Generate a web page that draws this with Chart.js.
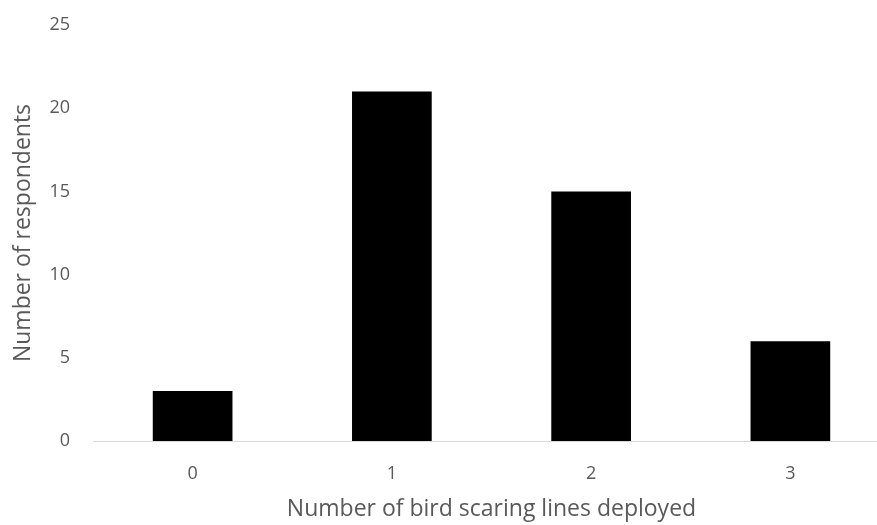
<!DOCTYPE html>
<html>
<head>
<meta charset="utf-8">
<script src="https://cdn.jsdelivr.net/npm/chart.js@4/dist/chart.umd.min.js"></script>
<style>
  html, body { margin: 0; padding: 0; overflow: hidden; background: #fff; }
  #wrap { width: 890px; height: 525px; }
</style>
</head>
<body>
<div id="wrap"><canvas id="canvas1"></canvas></div>
<script>
const lines = ['0', '1', '2', '3'];
const respondents = [3, 21, 15, 6];
const yTicks = [0, 5, 10, 15, 20, 25];

window.addEventListener("load", () => {
  const canvas1 = document.getElementById('canvas1');
  const grey = '#595959';
  const tickFont = { family: 'Open Sans', size: 18 };
  const titleFont = { family: 'Open Sans', size: 23 };

  new Chart(canvas1, {
    type: 'bar',
    data: {
      labels: lines,
      datasets: [{
        label: 'Number of respondents',
        data: respondents,
        backgroundColor: '#000000',
        borderWidth: 0,
        categoryPercentage: 1,
        barPercentage: 0.4,
      }]
    },
    options: {
      responsive: true,
      maintainAspectRatio: false,
      animation: false,
      layout: { padding: { top: 25, left: 0, right: 0, bottom: 0 } },
      plugins: { legend: { display: false }, tooltip: { enabled: false } },
      scales: {
        x: {
          grid: { display: false, drawTicks: false },
          border: { display: true, color: '#d9d9d9', width: 1 },
          ticks: { color: grey, font: tickFont, padding: 22 },
          title: { display: true, text: 'Number of bird scaring lines deployed', color: grey, font: titleFont, padding: { top: 0, bottom: 2 } },
          afterFit: (axis) => { axis.height = 84; axis.paddingLeft = 0; axis.paddingRight = 0; }
        },
        y: {
          min: 0,
          max: 25,
          afterBuildTicks: (axis) => { axis.ticks = yTicks.map(v => ({ value: v })); },
          grid: { display: false, drawTicks: false },
          border: { display: false },
          ticks: { color: grey, font: tickFont, padding: 23 },
          title: { display: true, text: 'Number of respondents', color: grey, font: titleFont, padding: { top: 10, bottom: 0 } },
          afterFit: (axis) => { axis.width = 93; axis.paddingTop = 0; axis.paddingBottom = 0; }
        }
      }
    }
  });
});
</script>
</body>
</html>
